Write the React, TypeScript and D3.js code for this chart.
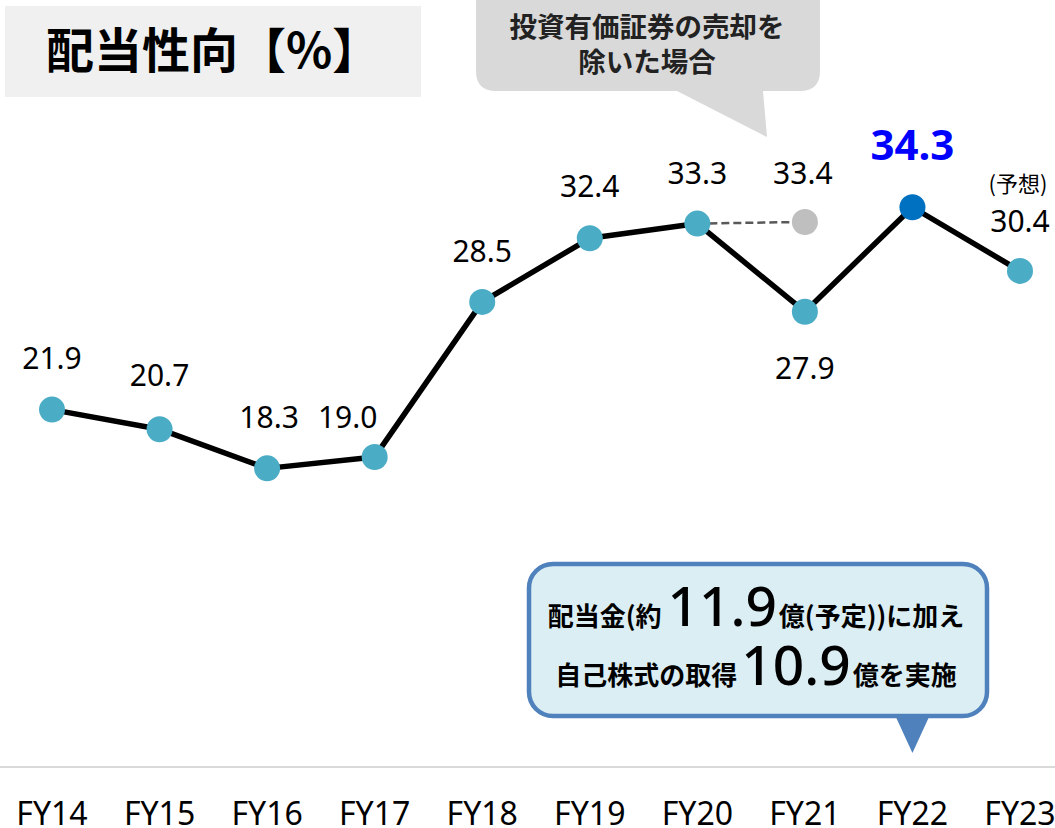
import React from "react";
import * as d3 from "d3";

const categories = ["FY14", "FY15", "FY16", "FY17", "FY18", "FY19", "FY20", "FY21", "FY22", "FY23"];
const payoutRatio = [21.9, 20.7, 18.3, 19.0, 28.5, 32.4, 33.3, 27.9, 34.3, 30.4];
const adjustedCategory = "FY21";
const adjustedValue = 33.4;
const highlightCategory = "FY22";
const forecastCategory = "FY23";
// label placement (dx, dy relative to point) – layout only
const labelDx = [0, 0, 2, -27, 0, 0, 0, 0, 0, 0];
const labelDy = [-41, -43, -40, -29, -40, -41, -40, 67, -47, -39];

const W = 1055;
const H = 828;
const SANS = "'Noto Sans', 'DejaVu Sans', sans-serif";
const CJK = "'Noto Sans CJK JP', 'Noto Sans', sans-serif";

export default function App() {
  const x = d3.scalePoint<string>().domain(categories).range([52, 1020]).padding(0);
  const y = d3.scaleLinear().domain([0, 47]).range([767, 0]);

  const pts = categories.map((c, i) => ({ c, v: payoutRatio[i], i }));
  const line = d3
    .line<{ c: string; v: number }>()
    .x((d) => x(d.c) as number)
    .y((d) => y(d.v));

  const fy20 = "FY20";
  const fy20v = payoutRatio[categories.indexOf(fy20)];

  // gray callout geometry
  const gx0 = 476, gx1 = 820, gy0 = -20, gy1 = 91, gr = 20;
  const tipX = 767, tipY = 137;
  // blue callout
  const bx0 = 529, bx1 = 987, by0 = 564, by1 = 716, br = 24;
  const btip = x(highlightCategory) as number;

  return (
    <svg
      width={W}
      height={H}
      style={{ position: "fixed", left: 0, top: 0, background: "#fff" }}
      xmlns="http://www.w3.org/2000/svg"
    >
      {/* title */}
      <rect x={5} y={6} width={416} height={91} fill="#f0f0f0" />
      <text x={46} y={68} fontFamily={CJK} fontWeight={700} fontSize={48} fill="#000">
        配当性向【%】
      </text>

      {/* gray callout */}
      <path
        d={`M${gx0 + gr},${gy0} H${gx1 - gr} Q${gx1},${gy0} ${gx1},${gy0 + gr} V${gy1 - gr} Q${gx1},${gy1} ${gx1 - gr},${gy1} H763 L${tipX},${tipY} L677,${gy1} H${gx0 + gr} Q${gx0},${gy1} ${gx0},${gy1 - gr} V${gy0 + gr} Q${gx0},${gy0} ${gx0 + gr},${gy0} Z`}
        fill="#d9d9d9"
      />
      <text x={647} y={37} textAnchor="middle" fontFamily={CJK} fontWeight={700} fontSize={27.5} fill="#222">
        投資有価証券の売却を
      </text>
      <text x={647} y={72} textAnchor="middle" fontFamily={CJK} fontWeight={700} fontSize={27.5} fill="#222">
        除いた場合
      </text>

      {/* axis baseline */}
      <line x1={0} x2={W} y1={y(0)} y2={y(0)} stroke="#d9d9d9" strokeWidth={2} />

      {/* x labels */}
      {categories.map((c) => (
        <text key={c} x={x(c)} y={825} textAnchor="middle" fontFamily={SANS} fontSize={32} fill="#000">
          {c}
        </text>
      ))}

      {/* dashed adjusted line */}
      <line
        x1={x(fy20) as number}
        y1={y(fy20v)}
        x2={x(adjustedCategory) as number}
        y2={y(adjustedValue)}
        stroke="#595959"
        strokeWidth={2.5}
        strokeDasharray="8 4"
      />

      {/* main line */}
      <path d={line(pts) || ""} fill="none" stroke="#000" strokeWidth={5.5} strokeLinejoin="round" />

      {/* markers */}
      <circle cx={x(adjustedCategory) as number} cy={y(adjustedValue)} r={13} fill="#bfbfbf" />
      {pts.map((d) => (
        <circle
          key={d.c}
          cx={x(d.c) as number}
          cy={y(d.v)}
          r={13}
          fill={d.c === highlightCategory ? "#0070c0" : "#4bacc6"}
        />
      ))}

      {/* value labels */}
      {pts.map((d) => {
        const hl = d.c === highlightCategory;
        return (
          <text
            key={d.c}
            x={(x(d.c) as number) + labelDx[d.i]}
            y={y(d.v) + labelDy[d.i]}
            textAnchor="middle"
            fontFamily={SANS}
            fontSize={hl ? 42 : 30}
            fontWeight={hl ? 700 : 400}
            fill={hl ? "#0000ff" : "#000"}
          >
            {d.v.toFixed(1)}
          </text>
        );
      })}
      <text
        x={(x(adjustedCategory) as number) - 2}
        y={y(fy20v) - 40}
        textAnchor="middle"
        fontFamily={SANS}
        fontSize={30}
        fill="#000"
      >
        {adjustedValue.toFixed(1)}
      </text>
      <text
        x={(x(forecastCategory) as number) - 2}
        y={192}
        textAnchor="middle"
        fontFamily={CJK}
        fontSize={22}
        fill="#000"
      >
        (予想)
      </text>

      {/* blue callout */}
      <path d={`M${btip - 17},${by1} L${btip},753 L${btip + 17},${by1} Z`} fill="#4f81bd" />
      <rect
        x={bx0}
        y={by0}
        width={bx1 - bx0}
        height={by1 - by0}
        rx={br}
        ry={br}
        fill="#dbeef4"
        stroke="#4f81bd"
        strokeWidth={4.5}
      />
      <text x={756} y={626} textAnchor="middle" fill="#000">
        <tspan fontFamily={CJK} fontWeight={700} fontSize={26}>配当金(約</tspan>
        <tspan dx={6} fontFamily={SANS} fontWeight={500} fontSize={55}>11.9</tspan>
        <tspan dx={2} fontFamily={CJK} fontWeight={700} fontSize={26}>億(予定))に加え</tspan>
      </text>
      <text x={756} y={685} textAnchor="middle" fill="#000">
        <tspan fontFamily={CJK} fontWeight={700} fontSize={26}>自己株式の取得</tspan>
        <tspan dx={4} fontFamily={SANS} fontWeight={500} fontSize={55}>10.9</tspan>
        <tspan dx={2} fontFamily={CJK} fontWeight={700} fontSize={26}>億を実施</tspan>
      </text>
    </svg>
  );
}
